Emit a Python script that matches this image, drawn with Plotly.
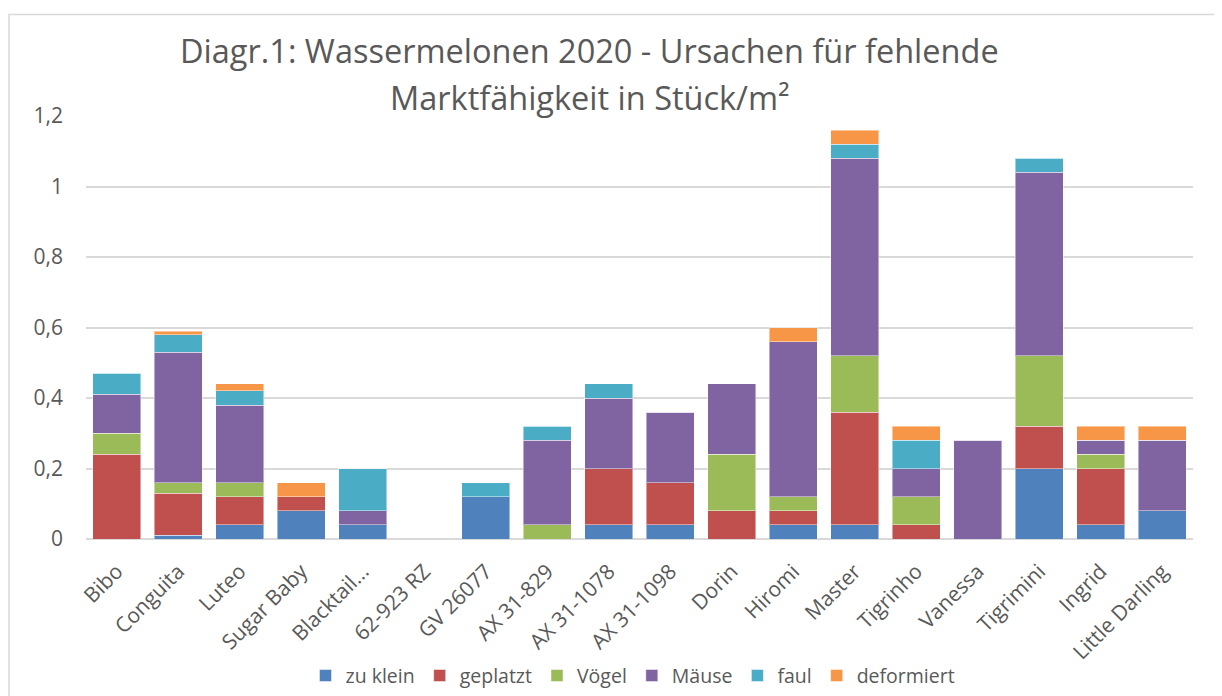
import plotly.graph_objects as go

categories = ["Bibo", "Conguita", "Luteo", "Sugar Baby", "Blacktail...", "62-923 RZ",
              "GV 26077", "AX 31-829", "AX 31-1078", "AX 31-1098", "Dorin", "Hiromi",
              "Master", "Tigrinho", "Vanessa", "Tigrimini", "Ingrid", "Little Darling"]

zu_klein   = [0.00, 0.01, 0.04, 0.08, 0.04, 0, 0.12, 0.00, 0.04, 0.04, 0.00, 0.04, 0.04, 0.00, 0.00, 0.20, 0.04, 0.08]
geplatzt   = [0.24, 0.12, 0.08, 0.04, 0.00, 0, 0.00, 0.00, 0.16, 0.12, 0.08, 0.04, 0.32, 0.04, 0.00, 0.12, 0.16, 0.00]
voegel     = [0.06, 0.03, 0.04, 0.00, 0.00, 0, 0.00, 0.04, 0.00, 0.00, 0.16, 0.04, 0.16, 0.08, 0.00, 0.20, 0.04, 0.00]
maeuse     = [0.11, 0.37, 0.22, 0.00, 0.04, 0, 0.00, 0.24, 0.20, 0.20, 0.20, 0.44, 0.56, 0.08, 0.28, 0.52, 0.04, 0.20]
faul       = [0.06, 0.05, 0.04, 0.00, 0.12, 0, 0.04, 0.04, 0.04, 0.00, 0.00, 0.00, 0.04, 0.08, 0.00, 0.04, 0.00, 0.00]
deformiert = [0.00, 0.01, 0.02, 0.04, 0.00, 0, 0.00, 0.00, 0.00, 0.00, 0.00, 0.04, 0.04, 0.04, 0.00, 0.00, 0.04, 0.04]

series = [
    ("zu klein", zu_klein, "#4F81BD"),
    ("geplatzt", geplatzt, "#C0504D"),
    ("Vögel", voegel, "#9BBB59"),
    ("Mäuse", maeuse, "#8064A2"),
    ("faul", faul, "#4BACC6"),
    ("deformiert", deformiert, "#F79646"),
]

FONT = "Open Sans"
GREY = "#595959"

fig = go.Figure()
for name, vals, col in series:
    fig.add_trace(go.Bar(
        x=categories, y=vals, name=name,
        marker=dict(color=col, line=dict(color="rgba(255,255,255,0.45)", width=1)),
    ))

# page offset caused by default body margin
OFF = 8
W, H = 1222 - OFF, 696 - OFF
# plot-area edges in page pixels
P_LEFT, P_RIGHT, P_TOP, P_BOTTOM = 86, 1193, 115.5, 539
L = P_LEFT - OFF
R = W - (P_RIGHT - OFF)
T = P_TOP - OFF
B = H - (P_BOTTOM - OFF)
ph = P_BOTTOM - P_TOP
pw = P_RIGHT - P_LEFT

def py(pix):
    return (P_BOTTOM - pix) / ph

def px(pix):
    return (pix - P_LEFT) / pw

fig.update_layout(
    width=W, height=H,
    barmode="stack", bargap=0.22,
    separators=", ",
    paper_bgcolor="white", plot_bgcolor="white",
    margin=dict(l=L, r=R, t=T, b=B, autoexpand=False),
    font=dict(family=FONT, color=GREY),
    showlegend=True,
    legend=dict(orientation="h", x=px(633), xanchor="center", y=py(676), yanchor="middle",
                font=dict(size=19.5, color=GREY, family=FONT), traceorder="normal",
                itemwidth=30),
    xaxis=dict(tickangle=-45, tickfont=dict(size=21, color=GREY, family=FONT),
               showgrid=False, showline=False, ticks="", automargin=False,
               ticklabelstandoff=15),
    yaxis=dict(range=[0, 1.2], dtick=0.2, tick0=0, showgrid=True, gridcolor="#D9D9D9",
               gridwidth=1.5, zeroline=True, zerolinecolor="#D9D9D9", zerolinewidth=1.5,
               tickfont=dict(size=21, color=GREY, family=FONT), ticks="", ticklabelstandoff=22,
               automargin=False),
    annotations=[
        dict(text="Diagr.1: Wassermelonen 2020 - Ursachen für fehlende", x=px(589), y=py(50),
             xref="paper", yref="paper", showarrow=False, xanchor="center", yanchor="middle",
             font=dict(size=32.5, color=GREY, family=FONT)),
        dict(text="Marktfähigkeit in Stück/m²", x=px(589), y=py(97),
             xref="paper", yref="paper", showarrow=False, xanchor="center", yanchor="middle",
             font=dict(size=32.5, color=GREY, family=FONT)),
    ],
    shapes=[dict(type="rect", xref="paper", yref="paper",
                 x0=px(9), x1=px(1240), y0=py(720), y1=py(14),
                 line=dict(color="#D9D9D9", width=1.5), fillcolor="rgba(0,0,0,0)", layer="below")],
)

fig.write_html("out.html")
